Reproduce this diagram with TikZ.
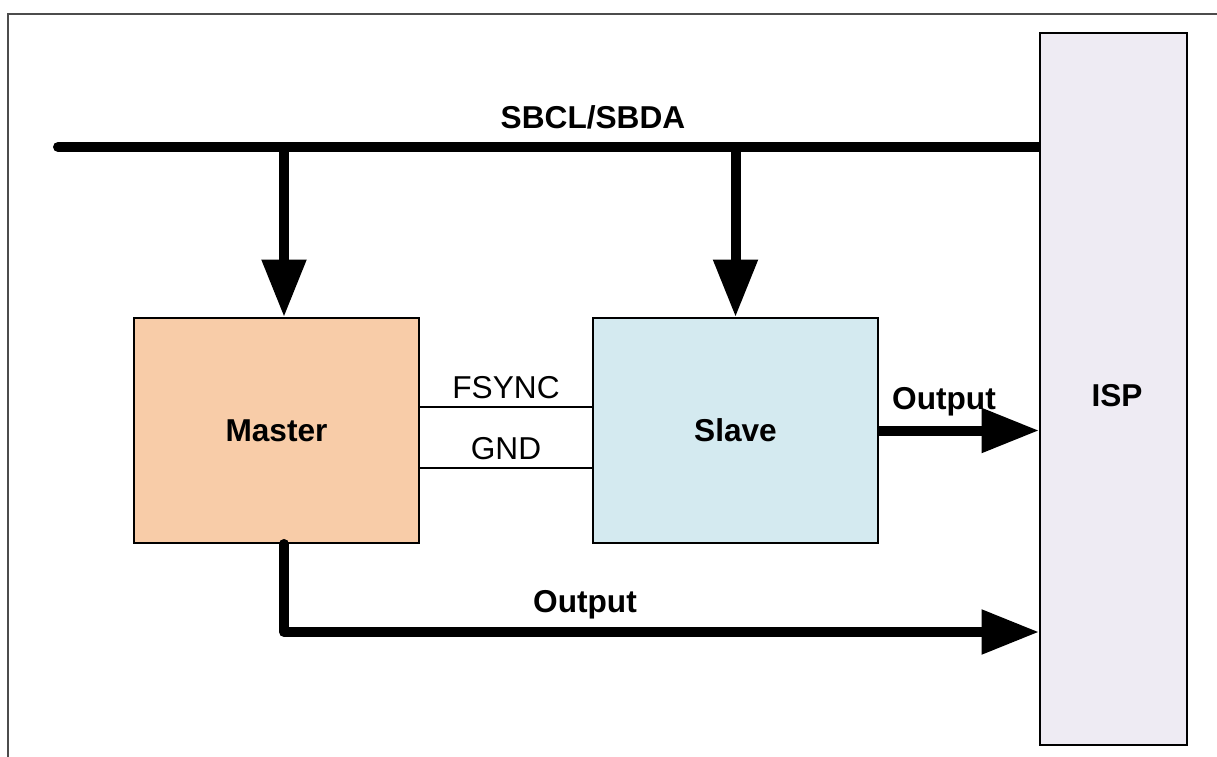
\documentclass[tikz,border=0pt]{standalone}
\usepackage{fontspec}
\setmainfont{Liberation Sans}
\usetikzlibrary{arrows.meta}
\definecolor{masterfill}{HTML}{F8CCA8}
\definecolor{slavefill}{HTML}{D4EAF0}
\definecolor{ispfill}{HTML}{EEEBF3}
\tikzset{
    boldlabel/.style={font=\fontsize{18}{21}\selectfont\bfseries},
    block/.style={draw, rectangle, line width=1.1pt, minimum width=5.7cm, minimum height=4.5cm, boldlabel},
    bus/.style={line width=0.2cm},
    bigarrow/.style={line width=0.2cm, -{Triangle[length=1.15cm, width=0.85cm]}},
    wire/.style={line width=1.1pt}
}
\begin{document}
\begin{tikzpicture}[font=\fontsize{18}{21}\selectfont]
    \useasboundingbox (0,0) rectangle (24.34,15.12);
    \draw[line width=0.8pt, black!70] (0.16,-1) -- (0.16,14.84) -- (25,14.84);

    \node[draw, rectangle, fill=ispfill, line width=1.1pt, minimum width=2.94cm, minimum height=14.24cm] (isp) at (22.27,7.34) {};
    \node[boldlabel] (isplabel) at (22.34,7.2) {ISP};
    \node[block, fill=masterfill] (master) at (5.53,6.51) {Master};
    \node[block, fill=slavefill] (slave) at (14.71,6.51) {Slave};

    \coordinate (busL) at (1.16,12.18);
    \draw[bus, line cap=round] (busL) -- ([xshift=-0.1cm]busL -| isp.west);
    \draw[bus] ([xshift=-0.12cm]busL -| isp.west) -- (busL -| isp.west);
    \node[boldlabel] (sbcl) at (11.86,12.78) {SBCL/SBDA};

    \draw[bigarrow] ([xshift=0.15cm]master.north |- busL) -- ([xshift=0.15cm]master.north);
    \draw[bigarrow] (slave.north |- busL) -- (slave.north);

    \draw[wire] ([yshift=0.47cm]master.east) -- ([yshift=0.47cm]slave.west) node[midway, above=1pt] (fsync) {FSYNC};
    \draw[wire] ([yshift=-0.75cm]master.east) -- ([yshift=-0.75cm]slave.west) node[midway, above=1pt] (gnd) {GND};

    \draw[bigarrow] (slave.east) -- (slave.east -| isp.west);
    \node[boldlabel] (out1) at (18.88,7.08) {Output};

    \coordinate (bend) at ([xshift=0.15cm]master.south |- 0,2.48);
    \draw[bigarrow, line cap=round, line join=round] ([xshift=0.15cm]master.south) -- (bend) -- (bend -| isp.west);
    \node[boldlabel] (out2) at (11.7,3.02) {Output};
\end{tikzpicture}
\end{document}
